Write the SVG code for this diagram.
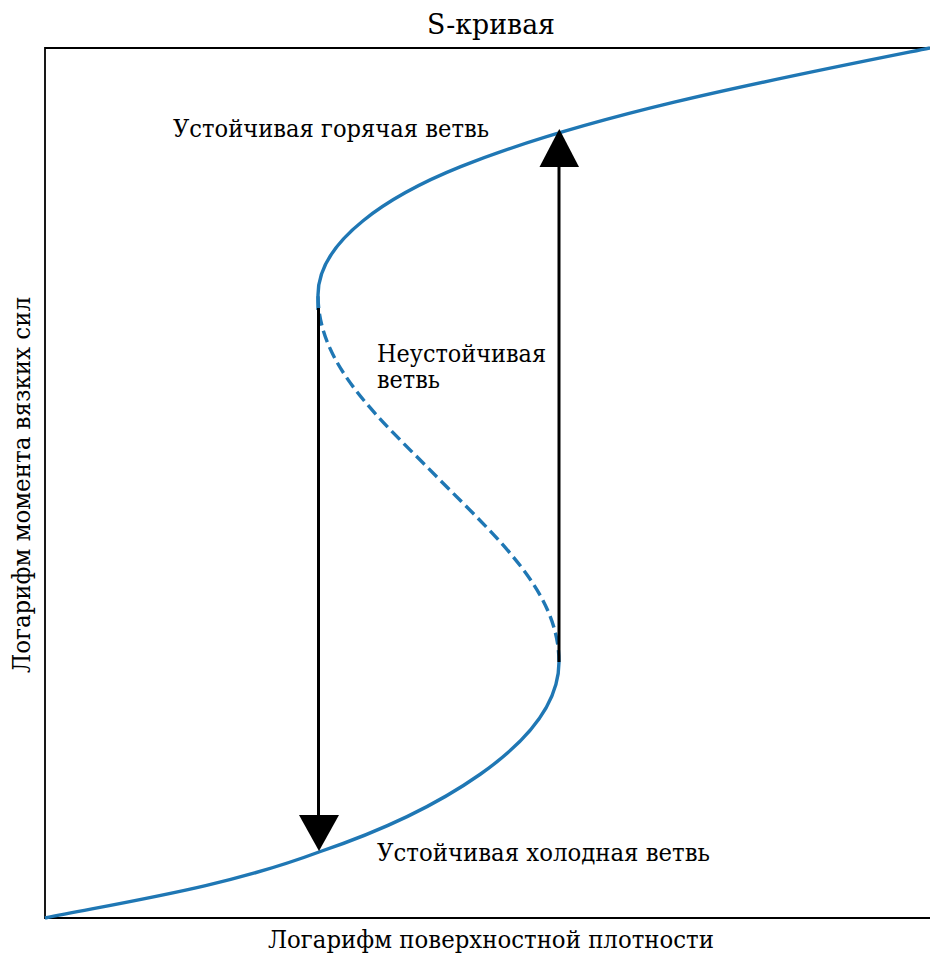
<svg xmlns="http://www.w3.org/2000/svg" width="930" height="955" viewBox="0 0 930 955">
<style>
.t{font-family:'DejaVu Serif','Liberation Serif',serif;fill:#000;}
.lbl{font-size:24px;}
.curve{fill:none;stroke:#1f77b4;stroke-width:3.4;stroke-linecap:butt;}
.dash{stroke-dasharray:12,5.5;}
.arr{stroke:#000;stroke-width:3;fill:none;}
.head{fill:#000;stroke:none;}
.spine{fill:none;stroke:#000;stroke-width:1.8;stroke-linecap:square;}
</style>
<rect x="0" y="0" width="930" height="955" fill="#fff"/>
<g id="axes">
<path class="spine" d="M931,48 L45,48 L45,918 L931,918"/>
</g>
<g id="title">
<text class="t" x="491" y="34" font-size="28" text-anchor="middle" textLength="128" lengthAdjust="spacingAndGlyphs">S-кривая</text>
</g>
<g id="s-curve">
<path class="curve" d="M45,918 C136,900 228,886 319,852 C429,815 559,745 559,662"/>
<path class="curve dash" d="M559,662 C559,592 498,539 438,478 C378,417 318,365 318,295"/>
<path class="curve" d="M318,310 L318,295 C318,240 390.7,194.7 460.7,166.7 C590.7,114.7 770,80 930,48"/>
</g>
<g id="connectors">
<line class="arr" x1="559" y1="662" x2="559" y2="166"/>
<polygon class="head" points="539.5,167 579,167 559.3,129"/>
<line class="arr" x1="318.5" y1="308" x2="318.5" y2="816"/>
<polygon class="head" points="299,815 339,815 319,851"/>
</g>
<g id="label-hot">
<text class="t lbl" x="173" y="137" textLength="316" lengthAdjust="spacingAndGlyphs">Устойчивая горячая ветвь</text>
</g>
<g id="label-unstable">
<text class="t lbl" x="377" y="362" textLength="169" lengthAdjust="spacingAndGlyphs">Неустойчивая</text>
<text class="t lbl" x="377" y="388" textLength="63" lengthAdjust="spacingAndGlyphs">ветвь</text>
</g>
<g id="label-cold">
<text class="t lbl" x="377" y="861" textLength="333" lengthAdjust="spacingAndGlyphs">Устойчивая холодная ветвь</text>
</g>
<g id="xlabel">
<text class="t lbl" x="491" y="948" text-anchor="middle" textLength="446" lengthAdjust="spacingAndGlyphs">Логарифм поверхностной плотности</text>
</g>
<g id="ylabel">
<text class="t lbl" transform="translate(30,485) rotate(-90)" x="0" y="0" text-anchor="middle" textLength="376" lengthAdjust="spacingAndGlyphs">Логарифм момента вязких сил</text>
</g>
</svg>
